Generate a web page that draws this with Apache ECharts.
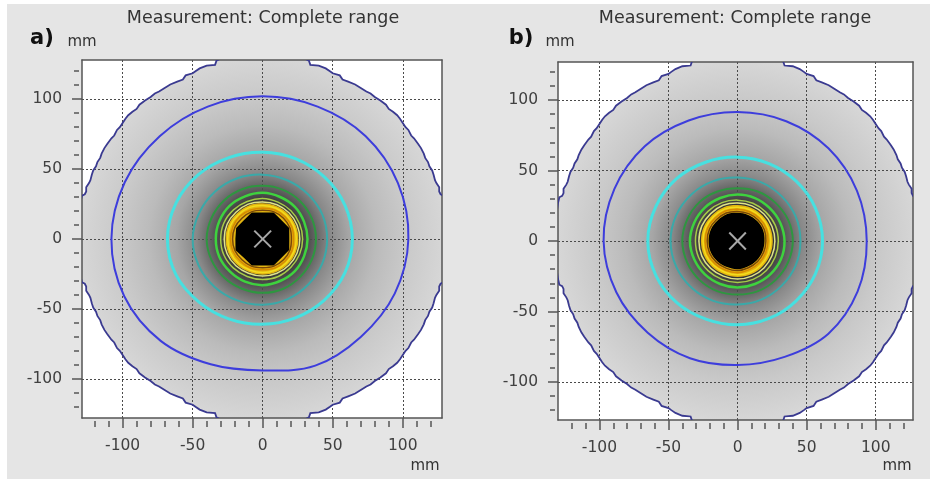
<!DOCTYPE html>
<html>
<head>
<meta charset="utf-8">
<title>Measurement: Complete range</title>
<script src="https://cdn.jsdelivr.net/npm/echarts@6.0.0/dist/echarts.min.js"></script>
<style>
  html, body { margin: 0; padding: 0; background: #fff; }
  #main { width: 930px; height: 481px; }
</style>
</head>
<body>
<div id="main"></div>
<script>
// contour radii in mm, read along 16 directions (every 22.5 deg, counter-clockwise from +x)
var angles = [0, 22.5, 45, 67.5, 90, 112.5, 135, 157.5, 180, 202.5, 225, 247.5, 270, 292.5, 315, 337.5];

// panel a)
var coreA    = [19, 20.5, 19, 20.5, 19, 20.5, 19, 20.5, 19.5, 21, 19, 20.5, 19, 20.5, 19, 20.5];
var brownA   = [20.5, 21, 21, 21, 20.5, 21, 21, 21.5, 21.5, 21.5, 21, 21, 20.5, 21, 21, 21];
var orangeA  = [22, 22.5, 22.5, 22.5, 22, 22.5, 23, 23, 23, 23, 22.5, 22.5, 22, 22.5, 22.5, 22.5];
var yellowA  = [24, 24, 24, 24, 24, 24.5, 24.5, 25, 25, 25, 24.5, 24, 24, 24, 24, 24];
var bandA    = [25.5, 25.5, 25.5, 25.5, 25.5, 26, 26, 26.5, 26.5, 26.5, 26, 25.5, 25.5, 25.5, 25.5, 25.5];
var paleA    = [26.5, 26.5, 26.5, 26.5, 26.5, 27, 27, 27.5, 27.5, 27.5, 27, 26.5, 26.5, 26.5, 26.5, 26.5];
var limeA    = [28.5, 28.5, 28.5, 28.5, 29, 29, 29.5, 30, 30, 30, 29.5, 29, 29, 29, 28.5, 28.5];
var greenA   = [32, 32, 32.5, 32.5, 33, 33, 33.5, 33.5, 33.5, 33.5, 33, 33, 33, 32.5, 32.5, 32];
var dkgreenA = [38, 38, 38, 38, 38, 38.5, 39, 39.5, 40, 39.5, 39, 38.5, 38.5, 38.5, 38, 38];
var tealA    = [46, 46, 45.5, 45.5, 46, 47, 48, 49, 50, 49.5, 48.5, 47.5, 47, 46.5, 46, 46];
var cyanA    = [64, 63.5, 62.5, 62, 62, 63, 65, 67, 68, 67, 64, 62, 61, 61, 62, 63.5];
var blueA    = [104, 104.5, 104, 102.5, 102, 102.5, 104, 106.5, 108, 107, 103, 97, 94, 98, 99, 102];

// panel b)
var coreB    = [19.5, 20, 20, 20, 20, 20.5, 20.5, 21, 21, 21, 20.5, 20, 20, 19.5, 19.5, 19.5];
var brownB   = [20.5, 21, 21, 21, 21, 21.5, 21.5, 22, 22, 22, 21.5, 21, 21, 20.5, 20.5, 20.5];
var orangeB  = [22, 22.5, 22.5, 22.5, 22.5, 23, 23, 23.5, 23.5, 23.5, 23, 22.5, 22.5, 22, 22, 22];
var yellowB  = [24, 24, 24, 24, 24, 24.5, 24.5, 25, 25, 25, 24.5, 24, 24, 24, 24, 24];
var bandB    = [25.5, 25.5, 25.5, 25.5, 25.5, 26, 26, 26.5, 26.5, 26.5, 26, 25.5, 25.5, 25.5, 25.5, 25.5];
var paleB    = [27, 27, 27, 27, 27, 27.5, 27.5, 28, 28, 28, 27.5, 27, 27, 27, 27, 27];
var limeB    = [29.5, 29.5, 29, 29, 29, 29.5, 30, 30.5, 30.5, 30.5, 30, 29.5, 29.5, 29.5, 29.5, 29.5];
var greenB   = [34, 33.5, 33, 33, 33, 33, 33.5, 34, 34.5, 34, 33.5, 33, 33, 33, 33.5, 34];
var dkgreenB = [40, 39.5, 38.5, 38, 37.5, 38, 39, 39.5, 40, 39.5, 39, 38.5, 38, 38.5, 39, 39.5];
var tealB    = [45.5, 45.5, 45, 45, 45, 46, 47, 48, 48.5, 48, 47, 46, 45, 45, 45, 45.5];
var cyanB    = [61.5, 61, 60, 59.5, 59.5, 60.5, 62.5, 64, 65, 64, 62, 60, 59.5, 59.5, 60, 61];
var blueB    = [93.5, 93.5, 93, 92, 91.5, 92.5, 95, 96.5, 97, 95, 92, 90, 88, 89, 93, 94];

// outer edge of the measured area, north-east quarter (mm), same for both panels
var rimNE = [[0, 131], [28, 131], [30, 129], [33, 127.5], [34, 124.5], [40, 124], [45, 122], [48, 120],
  [50, 118.5], [55, 117], [57, 114], [61, 112.5], [66, 110.5], [70, 108], [74, 105.5], [77, 104],
  [80, 101.5], [84, 99], [88, 96], [90, 93], [93, 91], [96, 88.5], [98, 86], [100, 83], [102, 80],
  [104, 78], [106, 74], [108, 72], [111, 68], [113, 65], [115, 61], [116, 58], [118, 55], [119, 52],
  [121, 49], [122, 46], [123, 42], [124, 40], [126, 37], [126, 34], [127, 32], [129, 31], [130, 27],
  [131, 20], [131, 0]];
var rimRadius = 131;
var crossHalf = 6;

// axis ticks
var majorTicks = [-100, -50, 0, 50, 100];
var minorTicks = [-120, -110, -100, -90, -80, -70, -60, -50, -40, -30, -20, -10, 0,
  10, 20, 30, 40, 50, 60, 70, 80, 90, 100, 110, 120];

var ringStyle = {
  band:    { fill: '#e2b511' },
  core:    { fill: '#000000' },
  brown:   { stroke: '#7a4608', width: 1.5 },
  orange:  { stroke: '#d88a00', width: 1.5 },
  yellow:  { stroke: '#f4dc1c', width: 1.5 },
  pale:    { stroke: '#dfe38a', width: 1.5 },
  lime:    { stroke: '#a6cc48', width: 1.5 },
  green:   { stroke: '#3ed23e', width: 2.5 },
  dkgreen: { stroke: '#2e9640', width: 2 },
  teal:    { stroke: '#3aa9a9', width: 2 },
  cyan:    { stroke: '#47e0e0', width: 3 },
  blue:    { stroke: '#3d3ddc', width: 2 }
};

var panels = [
  {
    xr: [-129, 128], yr: [-128, 128],
    grid: { left: 82, top: 60, width: 360, height: 358 },
    rings: [['band', bandA], ['core', coreA], ['brown', brownA], ['orange', orangeA], ['yellow', yellowA],
      ['pale', paleA], ['lime', limeA], ['green', greenA], ['dkgreen', dkgreenA], ['teal', tealA],
      ['cyan', cyanA], ['blue', blueA]]
  },
  {
    xr: [-130, 127], yr: [-127, 127],
    grid: { left: 558, top: 62, width: 355, height: 358 },
    rings: [['band', bandB], ['core', coreB], ['brown', brownB], ['orange', orangeB], ['yellow', yellowB],
      ['pale', paleB], ['lime', limeB], ['green', greenB], ['dkgreen', dkgreenB], ['teal', tealB],
      ['cyan', cyanB], ['blue', blueB]]
  }
];

var rim = [];
rimNE.forEach(function (p) { rim.push([p[0], p[1]]); });
rimNE.slice().reverse().forEach(function (p) { rim.push([p[0], -p[1]]); });
rimNE.forEach(function (p) { rim.push([-p[0], -p[1]]); });
rimNE.slice().reverse().forEach(function (p) { rim.push([-p[0], p[1]]); });

var axisColor = '#555555';
var labelFont = { color: '#404040', fontSize: 15.5, fontFamily: 'DejaVu Sans' };

function ringPoints(radii, api) {
  return radii.map(function (r, i) {
    var a = angles[i] * Math.PI / 180;
    return api.coord([r * Math.cos(a), r * Math.sin(a)]);
  });
}

var grids = [], xAxes = [], yAxes = [], series = [];

panels.forEach(function (pn, k) {
  grids.push(pn.grid);
  var xi = xAxes.length, yi = yAxes.length;
  // main axes: frame line, major ticks, labels, dotted grid
  xAxes.push({
    gridIndex: k, type: 'value', min: pn.xr[0], max: pn.xr[1], position: 'bottom', z: 2,
    axisLine: { show: true, onZero: false, lineStyle: { color: axisColor, width: 1.5 } },
    axisTick: { show: true, customValues: majorTicks, length: 10, lineStyle: { color: axisColor, width: 1.5 } },
    axisLabel: Object.assign({ customValues: majorTicks, margin: 20 }, labelFont),
    splitLine: { show: true, lineStyle: { color: '#4a4a4a', type: [2, 2], width: 1 } }
  });
  // minor ticks every 10 mm, set off slightly from the frame
  xAxes.push({
    gridIndex: k, type: 'value', min: pn.xr[0], max: pn.xr[1], position: 'bottom', offset: 3, z: 2,
    axisLine: { show: false, onZero: false },
    axisTick: { show: true, customValues: minorTicks, length: 6, lineStyle: { color: axisColor, width: 1.5 } },
    axisLabel: { show: false }, splitLine: { show: false }
  });
  xAxes.push({
    gridIndex: k, type: 'value', min: pn.xr[0], max: pn.xr[1], position: 'top', z: 2,
    axisLine: { show: true, onZero: false, lineStyle: { color: axisColor, width: 1.5 } },
    axisTick: { show: false }, axisLabel: { show: false }, splitLine: { show: false }
  });
  yAxes.push({
    gridIndex: k, type: 'value', min: pn.yr[0], max: pn.yr[1], position: 'left', z: 2,
    axisLine: { show: true, onZero: false, lineStyle: { color: axisColor, width: 1.5 } },
    axisTick: { show: true, customValues: majorTicks, length: 10, lineStyle: { color: axisColor, width: 1.5 } },
    axisLabel: Object.assign({ customValues: majorTicks, margin: 20 }, labelFont),
    splitLine: { show: true, lineStyle: { color: '#4a4a4a', type: [2, 2], width: 1 } }
  });
  yAxes.push({
    gridIndex: k, type: 'value', min: pn.yr[0], max: pn.yr[1], position: 'left', offset: 3, z: 2,
    axisLine: { show: false, onZero: false },
    axisTick: { show: true, customValues: minorTicks, length: 5, lineStyle: { color: axisColor, width: 1.5 } },
    axisLabel: { show: false }, splitLine: { show: false }
  });
  yAxes.push({
    gridIndex: k, type: 'value', min: pn.yr[0], max: pn.yr[1], position: 'right', z: 2,
    axisLine: { show: true, onZero: false, lineStyle: { color: axisColor, width: 1.5 } },
    axisTick: { show: false }, axisLabel: { show: false }, splitLine: { show: false }
  });

  // white plot area + shaded disk with its stepped outer edge
  series.push({
    type: 'custom', coordinateSystem: 'cartesian2d', xAxisIndex: xi, yAxisIndex: yi,
    clip: true, silent: true, z: 1, data: [[0, 0]],
    renderItem: function (params, api) {
      var c = api.coord([0, 0]);
      var rpx = api.size([rimRadius, 0])[0];
      var lt = api.coord([pn.xr[0], pn.yr[1]]);
      var rb = api.coord([pn.xr[1], pn.yr[0]]);
      var grad = new echarts.graphic.RadialGradient(c[0], c[1], rpx, [
        { offset: 0, color: '#000000' },
        { offset: 0.15, color: '#151515' },
        { offset: 0.21, color: '#3a3a3a' },
        { offset: 0.28, color: '#606060' },
        { offset: 0.36, color: '#888888' },
        { offset: 0.47, color: '#a6a6a6' },
        { offset: 0.62, color: '#bbbbbb' },
        { offset: 0.78, color: '#c9c9c9' },
        { offset: 1, color: '#d7d7d7' }
      ], true);
      return {
        type: 'group',
        children: [
          { type: 'rect', shape: { x: lt[0], y: lt[1], width: rb[0] - lt[0], height: rb[1] - lt[1] },
            style: { fill: '#ffffff' } },
          { type: 'polygon', shape: { points: rim.map(function (p) { return api.coord(p); }) },
            style: { fill: grad } }
        ]
      };
    }
  });

  // contour lines, outer edge line and centre cross
  series.push({
    type: 'custom', coordinateSystem: 'cartesian2d', xAxisIndex: xi, yAxisIndex: yi,
    clip: true, silent: true, z: 3, data: [[0, 0]],
    renderItem: function (params, api) {
      var children = [{
        type: 'polygon', shape: { points: rim.map(function (p) { return api.coord(p); }) },
        style: { fill: 'none', stroke: '#3a3a90', lineWidth: 1.8 }
      }];
      pn.rings.forEach(function (ring) {
        var st = ringStyle[ring[0]];
        var smooth = ring[0] === 'core' && k === 0 ? 0 : 0.35;
        children.push({
          type: 'polygon',
          shape: { points: ringPoints(ring[1], api), smooth: smooth },
          style: st.fill ? { fill: st.fill } : { fill: 'none', stroke: st.stroke, lineWidth: st.width }
        });
      });
      var a1 = api.coord([-crossHalf, -crossHalf]), a2 = api.coord([crossHalf, crossHalf]);
      var b1 = api.coord([-crossHalf, crossHalf]), b2 = api.coord([crossHalf, -crossHalf]);
      children.push({ type: 'line', shape: { x1: a1[0], y1: a1[1], x2: a2[0], y2: a2[1] },
        style: { stroke: '#a8a8a8', lineWidth: 2 } });
      children.push({ type: 'line', shape: { x1: b1[0], y1: b1[1], x2: b2[0], y2: b2[1] },
        style: { stroke: '#a8a8a8', lineWidth: 2 } });
      return { type: 'group', children: children };
    }
  });
});

function txt(x, y, s, size, weight, color) {
  return {
    type: 'text', x: x, y: y, z: 10,
    style: { text: s, fontSize: size, fontWeight: weight, fill: color, fontFamily: 'DejaVu Sans',
      textAlign: 'center', textVerticalAlign: 'middle' }
  };
}

var option = {
  backgroundColor: '#ffffff',
  animation: false,
  grid: grids,
  xAxis: xAxes,
  yAxis: yAxes,
  series: series,
  graphic: [
    { type: 'rect', z: -10, shape: { x: 7, y: 4, width: 923, height: 475 }, style: { fill: '#e5e5e5' } },
    txt(263, 18, 'Measurement: Complete range', 17.5, 'normal', '#333333'),
    txt(735, 18, 'Measurement: Complete range', 17.5, 'normal', '#333333'),
    txt(42, 39, 'a)', 21, 'bold', '#111111'),
    txt(521, 39, 'b)', 21, 'bold', '#111111'),
    txt(82, 42, 'mm', 15, 'normal', '#333333'),
    txt(560, 42, 'mm', 15, 'normal', '#333333'),
    txt(425, 466, 'mm', 15, 'normal', '#333333'),
    txt(897, 466, 'mm', 15, 'normal', '#333333')
  ]
};

var chart = echarts.init(document.getElementById('main'));
chart.setOption(option);
</script>
</body>
</html>
